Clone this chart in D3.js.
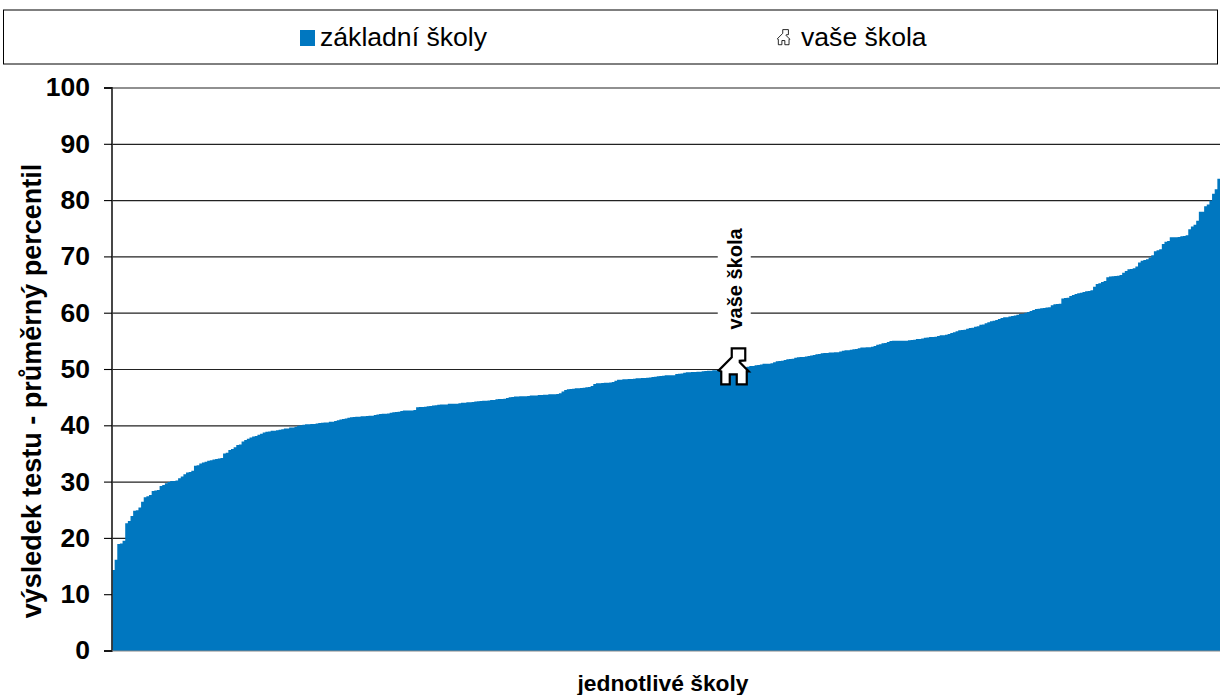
<!DOCTYPE html>
<html>
<head>
<meta charset="utf-8">
<script src="https://cdn.jsdelivr.net/npm/d3@7"></script>
<style>
  body { margin: 0; background: #fff; }
  text { font-family: "Liberation Sans", Arial, sans-serif; fill: #000; }
</style>
</head>
<body>
<svg id="chart" width="1220" height="695"></svg>
<script>
// Average percentile per school, sorted
const seriesLow = [14.4,16.2,19,19.1,19.6,22.7,23.1,24,24.9,25,25.5,26.5,27.3,27.5,27.7,28.4,28.5,28.6,29.3,29.5,29.8,30,30.2,30.2,30.3,30.7,31,31.4,31.7,31.8,32,32.9,33,33.3,33.5,33.6,33.8,33.9,34,34.1,34.2,34.3,35.1,35.2,35.7,35.9,36.2,36.6,36.7];
const seriesMidA = [37.2,37.5,37.7,37.9,38.1,38.2,38.4,38.6,38.8,38.96,39,39.1,39.1,39.2,39.3,39.4,39.5,39.5,39.7,39.7,39.85,40,40.1,40.2,40.26,40.26,40.3,40.3,40.4,40.5,40.56,40.6,40.6,40.7,40.7,40.85,41,41.1,41.2,41.3,41.45,41.5,41.56,41.6,41.6,41.7,41.7,41.74,41.8,41.8,41.9,42,42.1,42.16,42.16,42.2,42.3,42.4,42.45,42.5,42.63,42.7,42.7,42.7];
const seriesMidB = [42.7,42.8,43.3,43.34,43.34,43.4,43.46,43.5,43.6,43.64,43.76,43.8,43.8,43.8,43.9,43.9,43.9,43.9,44,44.1,44.1,44.2,44.2,44.23,44.3,44.35,44.4,44.47,44.47,44.5,44.6,44.6,44.7,44.76,44.76,44.8,44.94,45.06,45.1,45.2,45.2,45.24,45.24,45.24,45.3,45.36,45.4,45.4,45.47,45.47,45.5,45.5,45.6,45.6,45.6,45.65,45.77,46.1,46.36,46.5,46.54,46.6,46.66,46.66];
const seriesMidC = [46.7,46.77,46.83,46.9,47.07,47.42,47.54,47.54,47.6,47.66,47.66,47.7,47.8,48,48.2,48.2,48.25,48.25,48.3,48.3,48.37,48.43,48.43,48.5,48.5,48.55,48.6,48.67,48.72,48.8,48.84,48.9,48.96,48.96,48.96,49,49.2,49.26,49.3,49.43,49.5,49.5,49.55,49.55,49.6,49.6,49.67,49.73,49.8,49.8,49.85,49.85,49.9,50,50,50.05,50.1,50.15,50.2,50.25,50.3,50.35,50.4,50.5];
const seriesHighA = [50.6,50.6,50.74,50.8,50.9,51,51.03,51.03,51.1,51.27,51.45,51.5,51.57,51.7,51.8,51.86,51.92,52.1,52.16,52.2,52.2,52.3,52.4,52.5,52.57,52.7,52.75,52.87,52.93,52.93,53,53,53.05,53.05,53.2,53.34,53.4,53.4,53.5,53.6,53.64,53.76,53.9,53.9,53.94,53.94,54.05,54.17,54.4,54.5,54.65,54.7,54.88,55.06,55.1,55.1,55.1,55.1,55.1,55.1,55.18,55.24,55.3,55.4];
const seriesHighB = [55.4,55.5,55.65,55.7,55.77,55.77,55.83,55.95,56.1,56.1,56.19,56.3,56.5,56.6,56.8,56.96,57,57.07,57.25,57.37,57.43,57.6,57.7,57.96,58,58.2,58.38,58.55,58.67,58.8,58.97,59.15,59.27,59.3,59.4,59.5,59.6,59.74,59.86,59.9,60.1,60.2,60.4,60.57,60.75,60.8,60.86,60.92,61,61.04,61.4,61.57,61.63,61.7,62.6,62.7,62.76];
const seriesTop = [63.06,63.24,63.4,63.54,63.65,63.77,63.9,63.95,64.07,64.7,65.2,65.3,65.55,65.7,66.4,66.5,66.55,66.6,66.67,66.8,67.2,67.5,67.8,67.86,68,68.3,69,69.3,69.45,69.57,69.9,70.3,71,71.2,71.35,72.3,72.7,72.83,73.5,73.5,73.5,73.54,73.66,73.7,73.84,74.9,75.4,75.7,76.4,78,78,79,79.3,80,81.2,82,83.9];
const schools = [...seriesLow, ...seriesMidA, ...seriesMidB, ...seriesMidC, ...seriesHighA, ...seriesHighB, ...seriesTop];

const yourSchoolIndex = 235;
const yTicks = [0, 10, 20, 30, 40, 50, 60, 70, 80, 90, 100];
const legendLabels = ["základní školy", "vaše škola"];
const yTitle = "výsledek testu - průměrný percentil";
const xTitle = "jednotlivé školy";

const width = 1220, height = 695;
const margin = { top: 88, right: 0, bottom: 44, left: 112 };
const blue = "#0077c0";

const svg = d3.select("#chart");

const x = d3.scaleBand()
  .domain(d3.range(schools.length))
  .range([margin.left, width - margin.right])
  .paddingInner(0);

const y = d3.scaleLinear()
  .domain([0, 100])
  .range([height - margin.bottom, margin.top]);

// Gridlines
svg.append("g")
  .selectAll("line")
  .data(yTicks.filter(d => d > 0))
  .join("line")
  .attr("x1", margin.left)
  .attr("x2", width)
  .attr("y1", d => y(d))
  .attr("y2", d => y(d))
  .attr("stroke", "#222")
  .attr("stroke-width", 1.2);

// Bars, drawn as one stepped shape so no seams show between them
const barsPath = d3.path();
barsPath.moveTo(x(0), y(0));
schools.forEach((v, i) => {
  barsPath.lineTo(x(i), y(v));
  barsPath.lineTo(x(i) + x.bandwidth(), y(v));
});
barsPath.lineTo(width, y(0));
barsPath.closePath();
svg.append("path").attr("d", barsPath.toString()).attr("fill", blue);

// Y axis
const yAxis = svg.append("g")
  .attr("transform", `translate(${margin.left},0)`)
  .call(d3.axisLeft(y).tickValues(yTicks).tickSize(8).tickPadding(14).offset(0));
yAxis.select(".domain").attr("stroke", "#333").attr("stroke-width", 1.8);
yAxis.selectAll(".tick line").attr("stroke", "#000").attr("stroke-width", 1.1);
yAxis.selectAll("text")
  .attr("font-family", "Liberation Sans")
  .attr("font-weight", "bold")
  .attr("font-size", 26.5)
  .attr("fill", "#000");

// bottom baseline
svg.append("line")
  .attr("x1", margin.left).attr("x2", width)
  .attr("y1", y(0)).attr("y2", y(0))
  .attr("stroke", "#888").attr("stroke-width", 1);

// Axis titles
svg.append("text")
  .attr("transform", "rotate(-90)")
  .attr("x", -391)
  .attr("y", 41)
  .attr("text-anchor", "middle")
  .attr("font-weight", "bold")
  .attr("font-size", 27)
  .text(yTitle);

svg.append("text")
  .attr("x", 663)
  .attr("y", 691)
  .attr("text-anchor", "middle")
  .attr("font-weight", "bold")
  .attr("font-size", 22.8)
  .text(xTitle);

// School marker
const housePath = "M-16,2 L-3,-11 L-3,-20 L10.5,-20 L10.5,-8 L5,-7.5 L5,-6 L14,3 L12,3 L12,16 L2,16 L2,6 L-5,6 L-5,16 L-13.5,16 L-13.5,3 Z";
const markerX = x(yourSchoolIndex) + x.bandwidth() / 2;
const markerY = y(schools[yourSchoolIndex]);

svg.append("path")
  .attr("d", housePath)
  .attr("transform", `translate(${markerX},${markerY})`)
  .attr("fill", "#fff")
  .attr("stroke", "#000")
  .attr("stroke-width", 2.2);

svg.append("rect")
  .attr("x", markerX - 17)
  .attr("y", 222)
  .attr("width", 33)
  .attr("height", 114)
  .attr("fill", "#fff");

svg.append("text")
  .attr("transform", `translate(${markerX + 7},279) rotate(-90)`)
  .attr("text-anchor", "middle")
  .attr("font-weight", "bold")
  .attr("font-size", 20)
  .text(legendLabels[1]);

// Legend
const legend = svg.append("g");
legend.append("rect")
  .attr("x", 3.5).attr("y", 10)
  .attr("width", 1214).attr("height", 54)
  .attr("fill", "#fff").attr("stroke", "#000").attr("stroke-width", 1);
legend.append("rect")
  .attr("x", 300).attr("y", 30)
  .attr("width", 15).attr("height", 16)
  .attr("fill", blue);
legend.append("text")
  .attr("x", 320).attr("y", 46)
  .attr("font-size", 26.6)
  .text(legendLabels[0]);
legend.append("path")
  .attr("d", housePath)
  .attr("transform", "translate(784,38) scale(0.42)")
  .attr("fill", "#fff")
  .attr("stroke", "#000")
  .attr("stroke-width", 2);
legend.append("text")
  .attr("x", 801).attr("y", 46)
  .attr("font-size", 26.6)
  .text(legendLabels[1]);
</script>
</body>
</html>
